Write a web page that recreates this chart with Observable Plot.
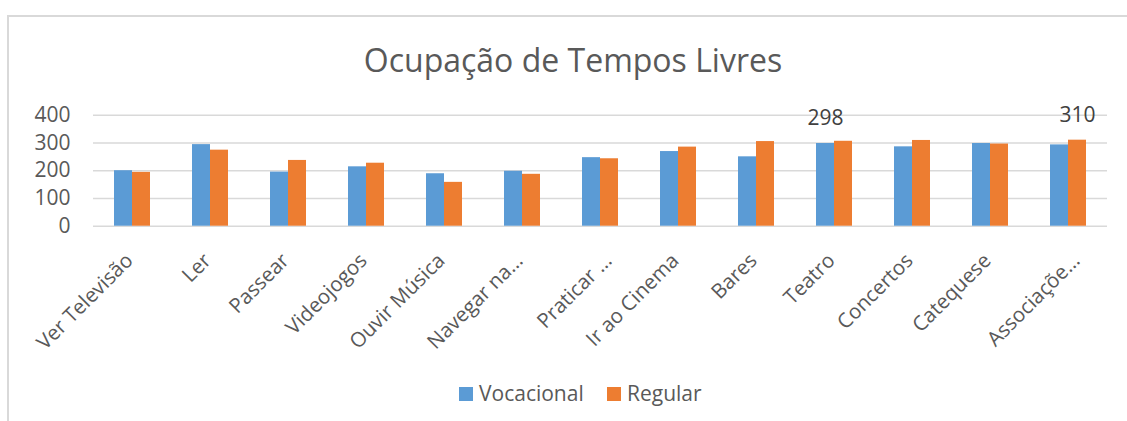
<!DOCTYPE html>
<html><head><meta charset="utf-8">
<script src="https://cdn.jsdelivr.net/npm/d3@7"></script>
<script src="https://cdn.jsdelivr.net/npm/@observablehq/plot@0.6"></script>
<style>
body{margin:0;background:#fff;font-family:"Open Sans",sans-serif;}
#wrap{position:relative;width:1127px;height:421px;overflow:hidden;background:#fff;}
#frame{position:absolute;left:7px;top:15px;width:1200px;height:500px;border-left:2px solid #d9d9d9;border-top:2px solid #d9d9d9;}
#title{position:absolute;left:0;width:1146px;top:38px;text-align:center;font-size:32px;line-height:43px;color:#595959;}
#chart{position:absolute;left:0;top:0;}
.lg{position:absolute;top:387px;width:14px;height:14px;}
.lt{position:absolute;top:379px;font-size:21px;line-height:29px;color:#595959;}
</style></head>
<body><div id="wrap">
<div id="frame"></div>
<div id="chart"></div>
<div id="title">Ocupação de Tempos Livres</div>
<div class="lg" style="left:459px;background:#5B9BD5"></div><div class="lt" style="left:479px">Vocacional</div>
<div class="lg" style="left:607px;background:#ED7D31"></div><div class="lt" style="left:627px">Regular</div>
</div>
<script>
const categories = ["Ver Televisão","Ler","Passear","Videojogos","Ouvir Música","Navegar na...","Praticar ...","Ir ao Cinema","Bares","Teatro","Concertos","Catequese","Associaçõe..."];
const series = ["Vocacional","Regular"];
const vocacional = [200,294,195,214,189,198,247,269,250,298,286,298,293];
const regular = [194,274,237,227,158,187,243,285,305,306,309,296,310];
const yTicks = [0,100,200,300,400];
const colors = ["#5B9BD5","#ED7D31"];
const labelled = [{cat:"Teatro", s:"Vocacional", v:298}, {cat:"Associaçõe...", s:"Regular", v:310}];
const shiftedTicks = ["Praticar ...","Associaçõe..."];

const data = categories.flatMap((c,i)=>[
  {cat:c, s:"Vocacional", v:vocacional[i]},
  {cat:c, s:"Regular", v:regular[i]}
]);

const chart = Plot.plot({
  width:1127, height:421,
  marginLeft:87, marginRight:14, marginTop:114.7, marginBottom:195.3,
  style:{background:"transparent", fontFamily:"Open Sans", fontSize:"21px", color:"#595959", overflow:"visible"},
  fx:{domain:categories, padding:0, label:null},
  x:{domain:series, paddingInner:0, paddingOuter:1.13, axis:null},
  y:{domain:[0,400], label:null},
  color:{domain:series, range:colors},
  marks:[
    Plot.ruleY(yTicks, {stroke:"#d9d9d9", strokeWidth:1.5}),
    Plot.barY(data, {fx:"cat", x:"s", y:"v", fill:"s"}),
    Plot.text(labelled, {fx:"cat", x:"s", y:"v", text:d=>String(d.v), dy:-25, fill:"#404040", fontSize:21}),
    Plot.axisY({ticks:yTicks, tickSize:0, tickPadding:23, fontSize:21, fill:"#595959", label:null}),
    Plot.axisFx({anchor:"bottom", ticks:categories.filter(c=>!shiftedTicks.includes(c)), tickRotate:-45, tickSize:0, tickPadding:31, dx:-3, fontSize:20.5, fill:"#595959", label:null}),
    Plot.axisFx({anchor:"bottom", ticks:shiftedTicks, tickRotate:-45, tickSize:0, tickPadding:31, dx:8, fontSize:20.5, fill:"#595959", label:null})
  ]
});
document.getElementById("chart").appendChild(chart);
</script>
</body></html>
